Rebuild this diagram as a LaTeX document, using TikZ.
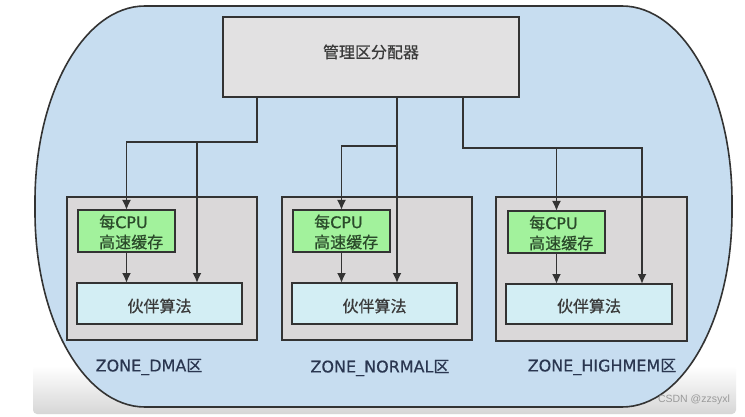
\documentclass[tikz,border=0pt]{standalone}
\usepackage{fontspec}
\setmainfont[FakeBold=0.4]{DejaVu Sans}
\newfontfamily\cjk[FakeBold=0.6]{Noto Sans CJK SC}
\newfontfamily\wmfont{Liberation Sans}
\usetikzlibrary{arrows.meta,calc}

\definecolor{outerblue}{HTML}{C7DDF0}
\definecolor{linegray}{HTML}{333333}
\definecolor{boxgray}{HTML}{E2E1E2}
\definecolor{zonegray}{HTML}{DAD8D9}
\definecolor{cpugreen}{HTML}{A2F29C}
\definecolor{buddycyan}{HTML}{D3EEF4}
\definecolor{txtgray}{HTML}{3A3A3A}
\definecolor{cputxt}{HTML}{2A4A2A}
\definecolor{lblblue}{HTML}{2A3650}
\definecolor{wmgray}{HTML}{9A9A9A}

\begin{document}
\begin{tikzpicture}[x=1pt,y=-1pt,
  box/.style={draw=linegray, line width=2pt, inner sep=0pt, outer sep=0pt},
  mgrbox/.style={box, fill=boxgray, minimum width=296pt, minimum height=80pt},
  zonebox/.style={box, fill=zonegray, minimum width=190pt, minimum height=143pt},
  cpubox/.style={box, fill=cpugreen, minimum width=97pt, minimum height=42pt},
  buddybox/.style={box, fill=buddycyan, minimum width=165pt, minimum height=41pt},
  cjktxt/.style={font=\cjk\fontsize{16}{20}\selectfont, text=txtgray, inner sep=0pt},
  cputext/.style={font=\fontsize{16}{20}\selectfont, text=cputxt, align=left, inner sep=0pt, anchor=west},
  zonelbl/.style={font=\fontsize{16}{20}\selectfont, text=lblblue, inner sep=0pt},
  conn/.style={draw=linegray, line width=1.8pt},
  arr/.style={conn, -{Latex[length=10pt,width=9pt]}}
]
% page
\fill[white] (0,0) rectangle (745,417);
\useasboundingbox (0,0) rectangle (745,417);
% screenshot card bottom shading
\shade[top color=white, bottom color=black!16, rounded corners=4pt] (33,366) rectangle (736,414);

% outer rounded container
\draw[fill=outerblue, draw=linegray, line width=1.6pt]
  (145,6) -- (622,6)
  arc[start angle=90, end angle=0, x radius=110pt, y radius=195pt]
  -- (732,212)
  arc[start angle=0, end angle=-90, x radius=110pt, y radius=195pt]
  -- (145,407)
  arc[start angle=270, end angle=180, x radius=110pt, y radius=195pt]
  -- (35,201)
  arc[start angle=180, end angle=90, x radius=110pt, y radius=195pt]
  -- cycle;

% manager
\node[mgrbox] (mgr) at (371,57) {};
\node[cjktxt] (mgrt) at (371,52) {管理区分配器};

% zones
\node[zonebox] (z1) at (162,268.5) {};
\node[zonebox] (z2) at (377,268.5) {};
\node[zonebox, minimum width=191pt] (z3) at (591.5,269) {};

% per-cpu caches
\node[cpubox] (cpu1) at (126.5,231) {};
\node[cpubox] (cpu2) at (341.5,231) {};
\node[cpubox] (cpu3) at (556.5,232) {};
\node[cputext] (cpu1t) at ($(cpu1.west)+(21,1)$) {{\cjk 每}CPU\\{\cjk 高速缓存}};
\node[cputext] (cpu2t) at ($(cpu2.west)+(21,1)$) {{\cjk 每}CPU\\{\cjk 高速缓存}};
\node[cputext] (cpu3t) at ($(cpu3.west)+(21,1)$) {{\cjk 每}CPU\\{\cjk 高速缓存}};

% buddy allocators
\node[buddybox] (b1) at (159.5,303.5) {};
\node[buddybox] (b2) at (374.5,303.5) {};
\node[buddybox, minimum width=166pt, minimum height=40pt] (b3) at (589,304) {};
\node[cjktxt] (b1t) at (159.5,306) {伙伴算法};
\node[cjktxt] (b2t) at (374.5,306) {伙伴算法};
\node[cjktxt] (b3t) at (589,306) {伙伴算法};

% zone labels
\node[zonelbl] (l1) at (149,367) {ZONE\_DMA{\cjk 区}};
\node[zonelbl] (l2) at (380,368) {ZONE\_NORMAL{\cjk 区}};
\node[zonelbl] (l3) at (602,367) {ZONE\_HIGHMEM{\cjk 区}};

% junction coordinates
\coordinate (h1) at (257,142);
\coordinate (j1) at (197,142);
\coordinate (h2) at (397,146);
\coordinate (h3) at (463,148);
\coordinate (e3) at (642,148);

% connectors: left zone
\draw[arr] (h1 |- mgr.south) -- (h1) -| (cpu1.north);
\draw[arr] (j1) -- (j1 |- b1.north);
% middle zone
\draw[arr] (h2 |- mgr.south) -- (h2 |- b2.north);
\draw[arr] (h2) -| (cpu2.north);
% right zone
\draw[arr] (h3 |- mgr.south) -- (h3) -- (e3) -- (e3 |- b3.north);
\draw[arr] (h3 -| cpu3.north) -- (cpu3.north);
% cache to buddy
\draw[arr] (cpu1.south) -- (cpu1.south |- b1.north);
\draw[arr] (cpu2.south) -- (cpu2.south |- b2.north);
\draw[arr] (cpu3.south) -- (cpu3.south |- b3.north);

% watermark
\node[font=\wmfont\fontsize{10.5}{12}\selectfont, text=wmgray, inner sep=0pt] (wm) at (694,400) {CSDN @zzsyxl};
\end{tikzpicture}
\end{document}
